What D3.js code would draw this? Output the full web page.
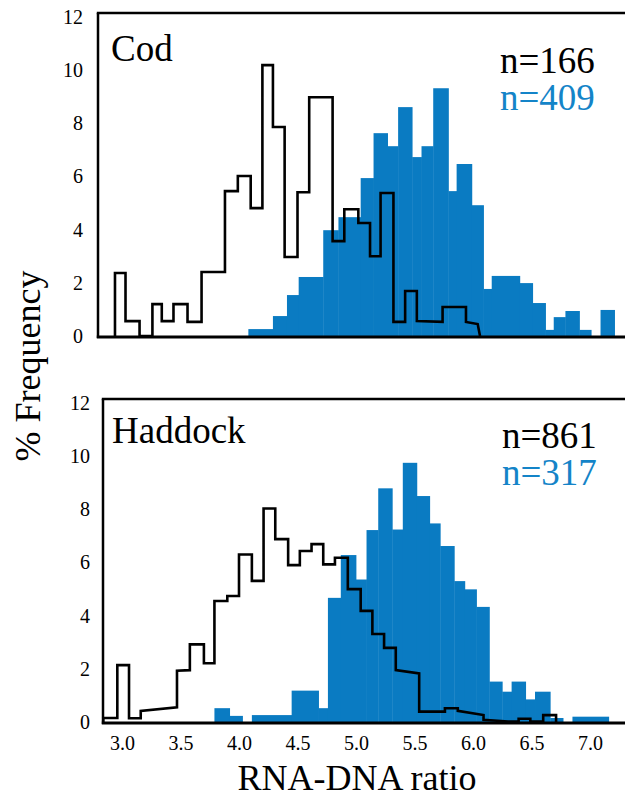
<!DOCTYPE html>
<html>
<head>
<meta charset="utf-8">
<script src="https://cdn.jsdelivr.net/npm/d3@7"></script>
<style>
  body { margin: 0; background: #fff; }
</style>
</head>
<body>
<div class="canvas"></div>
<script>
// tick labels
const xTicks = [3.0, 3.5, 4.0, 4.5, 5.0, 5.5, 6.0, 6.5, 7.0];
const yTicks = [0, 2, 4, 6, 8, 10, 12];

// Cod: blue bins (edges + % frequency), black outline vertices [ratio, %]
const codBlueEdges = [4.08, 4.29, 4.41, 4.51, 4.72, 4.85, 5.04, 5.15, 5.27, 5.36, 5.48, 5.56, 5.66, 5.79,
    5.86, 5.99, 6.09, 6.16, 6.40, 6.51, 6.62, 6.69, 6.79, 6.91, 7.01, 7.09, 7.21];
const codBluePct = [0.26, 0.75, 1.54, 2.22, 3.98, 4.47, 5.94, 7.63, 7.14, 8.61, 6.73, 7.14, 9.32,
    5.45, 6.47, 4.92, 1.77, 2.26, 1.99, 1.24, 0.23, 0.71, 0.94, 0.23, 0, 0.98];
const codBlackOutline = [[2.94, 0], [2.94, 2.37], [3.03, 2.37], [3.03, 0.56], [3.15, 0.56], [3.15, 0],
    [3.26, 0], [3.26, 1.2], [3.34, 1.2], [3.34, 0.56], [3.44, 0.56], [3.44, 1.2], [3.56, 1.2], [3.56, 0.53],
    [3.68, 0.53], [3.68, 2.41], [3.88, 2.41], [3.88, 5.45], [3.99, 5.45], [3.99, 6.02], [4.10, 6.02],
    [4.10, 4.81], [4.20, 4.81], [4.20, 10.19], [4.29, 10.19], [4.29, 7.86], [4.39, 7.86], [4.39, 2.97],
    [4.50, 2.97], [4.50, 5.41], [4.60, 5.41], [4.60, 8.98], [4.80, 8.98], [4.80, 3.57], [4.90, 3.57],
    [4.90, 4.77], [5.02, 4.77], [5.02, 4.25], [5.12, 4.25], [5.12, 3.0], [5.21, 3.0], [5.21, 5.38],
    [5.32, 5.38], [5.32, 0.53], [5.42, 0.53], [5.42, 1.69], [5.52, 1.69], [5.52, 0.56], [5.74, 0.53],
    [5.74, 1.09], [5.94, 1.09], [5.94, 0.53], [6.04, 0.45], [6.06, 0]];

// Haddock
const haddockBlueEdges = [3.79, 3.92, 4.03, 4.11, 4.45, 4.68, 4.76, 4.87, 5.00, 5.09, 5.19, 5.31, 5.40,
    5.52, 5.63, 5.72, 5.84, 5.93, 6.03, 6.14, 6.25, 6.33, 6.45, 6.53, 6.66, 6.77, 6.85, 7.16];
const haddockBluePct = [0.52, 0.23, 0, 0.26, 1.18, 0.52, 4.67, 6.28, 5.36, 7.22, 8.79, 7.24, 9.75, 8.5,
    7.47, 6.62, 5.3, 4.99, 4.33, 1.52, 1.14, 1.52, 0.85, 1.14, 0.15, 0, 0.2];
const haddockBlackOutline = [[2.84, 0], [2.84, 0.15], [2.96, 0.15], [2.96, 2.14], [3.06, 2.14], [3.06, 0.14],
    [3.16, 0.14], [3.16, 0.42], [3.47, 0.55], [3.47, 1.93], [3.58, 1.95], [3.58, 2.92], [3.70, 2.92],
    [3.70, 2.21], [3.79, 2.21], [3.79, 4.55], [3.90, 4.55], [3.90, 4.74], [4.00, 4.74], [4.00, 6.3],
    [4.11, 6.3], [4.11, 5.31], [4.21, 5.31], [4.21, 8.03], [4.31, 8.03], [4.31, 6.88], [4.42, 6.88],
    [4.42, 5.9], [4.52, 5.9], [4.52, 6.43], [4.62, 6.43], [4.62, 6.69], [4.72, 6.69], [4.72, 5.93],
    [4.82, 5.93], [4.82, 6.18], [4.93, 6.18], [4.93, 5.0], [5.04, 5.0], [5.04, 4.18], [5.14, 4.18],
    [5.14, 3.31], [5.24, 3.31], [5.24, 2.79], [5.34, 2.79], [5.34, 1.95], [5.54, 1.83], [5.54, 0.39],
    [5.76, 0.39], [5.76, 0.52], [5.87, 0.52], [5.87, 0.42], [6.09, 0.26], [6.09, 0.08], [6.30, 0.02],
    [6.39, 0.02], [6.39, 0.12], [6.49, 0.12], [6.49, 0.02], [6.60, 0.02], [6.60, 0.26], [6.71, 0.26], [6.71, 0]];

const species = ['Cod', 'Haddock'];
const blackN = ['n=166', 'n=861'];
const blueN = ['n=409', 'n=317'];

const blue = '#0a7bc2';
const blueText = '#1484c8';
const serif = '"Liberation Serif", "Times New Roman", Tinos, "Nimbus Roman", "DejaVu Serif", serif';

const dims = { width: 625, height: 797 };

const svg = d3.select('.canvas')
    .append('svg')
    .attr('width', dims.width)
    .attr('height', dims.height)
    .attr('font-family', serif);

const x = d3.scaleLinear().domain([3, 7]).range([122, 590]);

// layout of the two stacked panels
const panels = [
    { name: species[0], nBlack: blackN[0], nBlue: blueN[0], edges: codBlueEdges, pct: codBluePct,
      outline: codBlackOutline, left: 98, top: 13, y0: 336, y12: 17, tickPad: 15,
      titleX: 111, titleY: 61, nX: 500, nY: [73, 110] },
    { name: species[1], nBlack: blackN[1], nBlue: blueN[1], edges: haddockBlueEdges, pct: haddockBluePct,
      outline: haddockBlackOutline, left: 103, top: 399, y0: 722, y12: 403, tickPad: 13,
      titleX: 112, titleY: 443, nX: 502, nY: [448, 485] }
];

panels.forEach((p, idx) => {
    const y = d3.scaleLinear().domain([0, 12]).range([p.y0, p.y12]);
    const g = svg.append('g');

    // blue histogram
    const bins = p.pct.map((v, i) => ({ x0: p.edges[i], x1: p.edges[i + 1], v }));
    g.selectAll('rect.bin')
        .data(bins)
        .enter()
        .append('rect')
        .attr('class', 'bin')
        .attr('x', d => x(d.x0))
        .attr('width', d => x(d.x1) - x(d.x0) + 0.4)
        .attr('y', d => y(d.v))
        .attr('height', d => y(0) - y(d.v))
        .attr('fill', blue);

    // black outline histogram
    const line = d3.line()
        .x(d => x(d[0]))
        .y(d => y(d[1]));
    g.append('path')
        .datum(p.outline)
        .attr('d', line)
        .attr('fill', 'none')
        .attr('stroke', '#000')
        .attr('stroke-width', 2.6)
        .attr('stroke-linejoin', 'miter');

    // frame: left, top, bottom (open to the right)
    g.append('line')
        .attr('x1', p.left).attr('x2', p.left)
        .attr('y1', p.top).attr('y2', p.y0 + 2)
        .attr('stroke', '#000').attr('stroke-width', 2.5);
    g.append('line')
        .attr('x1', p.left - 1.2).attr('x2', dims.width + 5)
        .attr('y1', p.top).attr('y2', p.top)
        .attr('stroke', '#000').attr('stroke-width', 2.5);
    g.append('line')
        .attr('x1', p.left - 1.2).attr('x2', dims.width + 5)
        .attr('y1', p.y0 + 1).attr('y2', p.y0 + 1)
        .attr('stroke', '#000').attr('stroke-width', 3.2);

    // y axis labels
    const yAxis = d3.axisLeft(y)
        .tickValues(yTicks)
        .tickSize(0)
        .tickPadding(p.tickPad);
    const ya = svg.append('g')
        .attr('transform', `translate(${p.left},0)`)
        .call(yAxis)
        .attr('font-family', serif)
        .attr('font-size', 20);
    ya.select('.domain').remove();
    ya.selectAll('text').attr('fill', '#000');

    // x axis labels only on bottom panel
    if (idx === panels.length - 1) {
        const xAxis = d3.axisBottom(x)
            .tickValues(xTicks)
            .tickFormat(d3.format('.1f'))
            .tickSize(0)
            .tickPadding(13);
        const xa = svg.append('g')
            .attr('transform', `translate(0,${p.y0 + 1})`)
            .call(xAxis)
            .attr('font-family', serif)
            .attr('font-size', 20);
        xa.select('.domain').remove();
        xa.selectAll('text').attr('fill', '#000');
    }

    // species name and sample sizes
    g.append('text')
        .attr('x', p.titleX)
        .attr('y', p.titleY)
        .attr('font-size', 37)
        .text(p.name);
    g.append('text')
        .attr('x', p.nX)
        .attr('y', p.nY[0])
        .attr('font-size', 37)
        .attr('fill', '#000')
        .text(p.nBlack);
    g.append('text')
        .attr('x', p.nX)
        .attr('y', p.nY[1])
        .attr('font-size', 37)
        .attr('fill', blueText)
        .text(p.nBlue);
});

// axis titles
svg.append('text')
    .attr('x', 357)
    .attr('y', 790)
    .attr('text-anchor', 'middle')
    .attr('font-size', 36)
    .text('RNA-DNA ratio');

svg.append('text')
    .attr('transform', 'translate(40,366) rotate(-90)')
    .attr('text-anchor', 'middle')
    .attr('font-size', 36)
    .text('% Frequency');
</script>
</body>
</html>
